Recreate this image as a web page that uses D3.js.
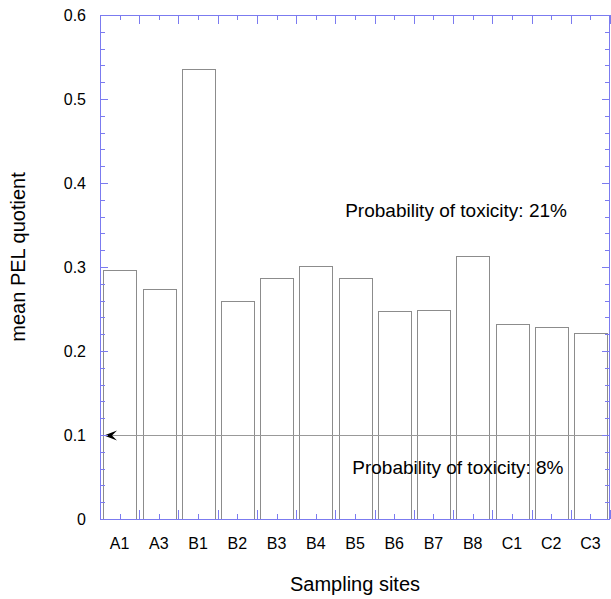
<!DOCTYPE html>
<html lang="en">
  <head>
    <meta charset="utf-8">
    <title>mean PEL quotient</title>
    <script type="text/javascript" src="https://cdn.jsdelivr.net/npm/d3@7"></script>
    <style>
      body { margin: 0; background: #fff; }
      text { font-family: Arial, "Liberation Sans", sans-serif; fill: #000; }
    </style>
  </head>
  <body>
    <script type="text/javascript">
    // sites and mean PEL quotients
    var sites = ["A1", "A3", "B1", "B2", "B3", "B4", "B5", "B6", "B7", "B8", "C1", "C2", "C3"];
    var pelq = [0.297, 0.274, 0.536, 0.260, 0.287, 0.301, 0.287, 0.248, 0.249, 0.313, 0.232, 0.229, 0.221];
    var yTicks = [0, 0.1, 0.2, 0.3, 0.4, 0.5, 0.6];
    var threshold = 0.1;
    var notes = [
      {text: "Probability of toxicity: 21%", v: 0.3595, site: 6.25},
      {text: "Probability of toxicity: 8%", v: 0.0536, site: 6.43}
    ];

    var w = 611, h = 599;
    // plot box (note: "top" is taken by window.top, so prefix these)
    var pLeft = 100, pRight = 610, pTop = 15, pBottom = 519;
    var axisColor = "#7b7bf0";

    var svg = d3.select("body").append("svg")
                .attr("width", w)
                .attr("height", h);

    var xScale = d3.scaleBand()
                   .domain(sites)
                   .range([pLeft, pRight])
                   .paddingInner(0.17)
                   .paddingOuter(0.085);
    var xLin = d3.scaleLinear().domain([0, sites.length]).range([pLeft, pRight]);
    var yScale = d3.scaleLinear().domain([0, 0.6]).range([pBottom, pTop]);

    // bars
    svg.selectAll("rect.bar")
       .data(pelq)
       .enter()
       .append("rect")
       .attr("class", "bar")
       .attr("x", function(d, i) { return Math.round(xScale(sites[i])) + 0.5; })
       .attr("y", function(d) { return Math.round(yScale(d)) + 0.5; })
       .attr("width", Math.round(xScale.bandwidth()))
       .attr("height", function(d) { return pBottom - Math.round(yScale(d)); })
       .attr("fill", "none")
       .attr("stroke", "#8c8c8c")
       .attr("stroke-width", 1);

    // threshold line with arrow head
    var ty = Math.round(yScale(threshold)) + 0.5;
    svg.append("line")
       .attr("x1", pLeft).attr("x2", pRight)
       .attr("y1", ty).attr("y2", ty)
       .attr("stroke", "#999")
       .attr("stroke-width", 1);
    svg.append("path")
       .attr("d", "M" + (pLeft + 17) + "," + (ty - 5) + " L" + (pLeft + 4) + "," + ty +
                  " L" + (pLeft + 17) + "," + (ty + 5) + " L" + (pLeft + 12) + "," + ty + " Z")
       .attr("fill", "#000");

    // minor y ticks
    var yMinor = d3.range(0, 0.6001, 0.02);

    // left axis
    var gl = svg.append("g").attr("transform", "translate(" + pLeft + ",0)");
    gl.append("line").attr("x1", 0.5).attr("x2", 0.5).attr("y1", pTop).attr("y2", pBottom)
      .attr("stroke", axisColor);
    gl.selectAll("line.mi").data(yMinor).enter().append("line")
      .attr("x1", 0).attr("x2", function(d, i) { return i % 5 == 0 ? 8 : 5; })
      .attr("y1", function(d) { return Math.round(yScale(d)) + 0.5; })
      .attr("y2", function(d) { return Math.round(yScale(d)) + 0.5; })
      .attr("stroke", axisColor);
    gl.selectAll("text").data(yTicks).enter().append("text")
      .attr("x", -14)
      .attr("y", function(d) { return yScale(d) + 6; })
      .attr("text-anchor", "end")
      .attr("font-size", 16)
      .text(function(d) { return d == 0 ? "0" : d3.format(".1f")(d); });

    // right axis
    var gr = svg.append("g").attr("transform", "translate(" + pRight + ",0)");
    gr.append("line").attr("x1", -0.5).attr("x2", -0.5).attr("y1", pTop).attr("y2", pBottom)
      .attr("stroke", axisColor);
    gr.selectAll("line.mi").data(yMinor).enter().append("line")
      .attr("x1", 0).attr("x2", function(d, i) { return i % 5 == 0 ? -8 : -5; })
      .attr("y1", function(d) { return Math.round(yScale(d)) + 0.5; })
      .attr("y2", function(d) { return Math.round(yScale(d)) + 0.5; })
      .attr("stroke", axisColor);

    // top and bottom axes: long ticks at site boundaries, short ticks at centres
    var xt = d3.range(0, sites.length * 2 + 1);
    [[pBottom, -1], [pTop, 1]].forEach(function(a) {
      var g = svg.append("g");
      g.append("line").attr("x1", pLeft).attr("x2", pRight).attr("y1", a[0] + 0.5).attr("y2", a[0] + 0.5)
       .attr("stroke", axisColor);
      g.selectAll("line.t").data(xt).enter().append("line")
       .attr("x1", function(d) { return Math.round(xLin(d / 2)) + 0.5; })
       .attr("x2", function(d) { return Math.round(xLin(d / 2)) + 0.5; })
       .attr("y1", a[0])
       .attr("y2", function(d) { return a[0] + a[1] * (d % 2 == 0 ? 9 : 5); })
       .attr("stroke", axisColor);
    });

    // x tick labels
    svg.selectAll("text.xl").data(sites).enter().append("text")
       .attr("class", "xl")
       .attr("x", function(d) { return xScale(d) + xScale.bandwidth() / 2; })
       .attr("y", 549)
       .attr("text-anchor", "middle")
       .attr("font-size", 16)
       .text(function(d) { return d; });

    // notes
    svg.selectAll("text.note").data(notes).enter().append("text")
       .attr("class", "note")
       .attr("x", function(d) { return xLin(d.site); })
       .attr("y", function(d) { return yScale(d.v); })
       .attr("font-size", 19)
       .text(function(d) { return d.text; });

    // axis titles
    svg.append("text")
       .attr("x", 355).attr("y", 591)
       .attr("text-anchor", "middle")
       .attr("font-size", 20)
       .text("Sampling sites");
    svg.append("text")
       .attr("transform", "translate(25,257) rotate(-90)")
       .attr("text-anchor", "middle")
       .attr("font-size", 20)
       .text("mean PEL quotient");
    </script>
  </body>
</html>
